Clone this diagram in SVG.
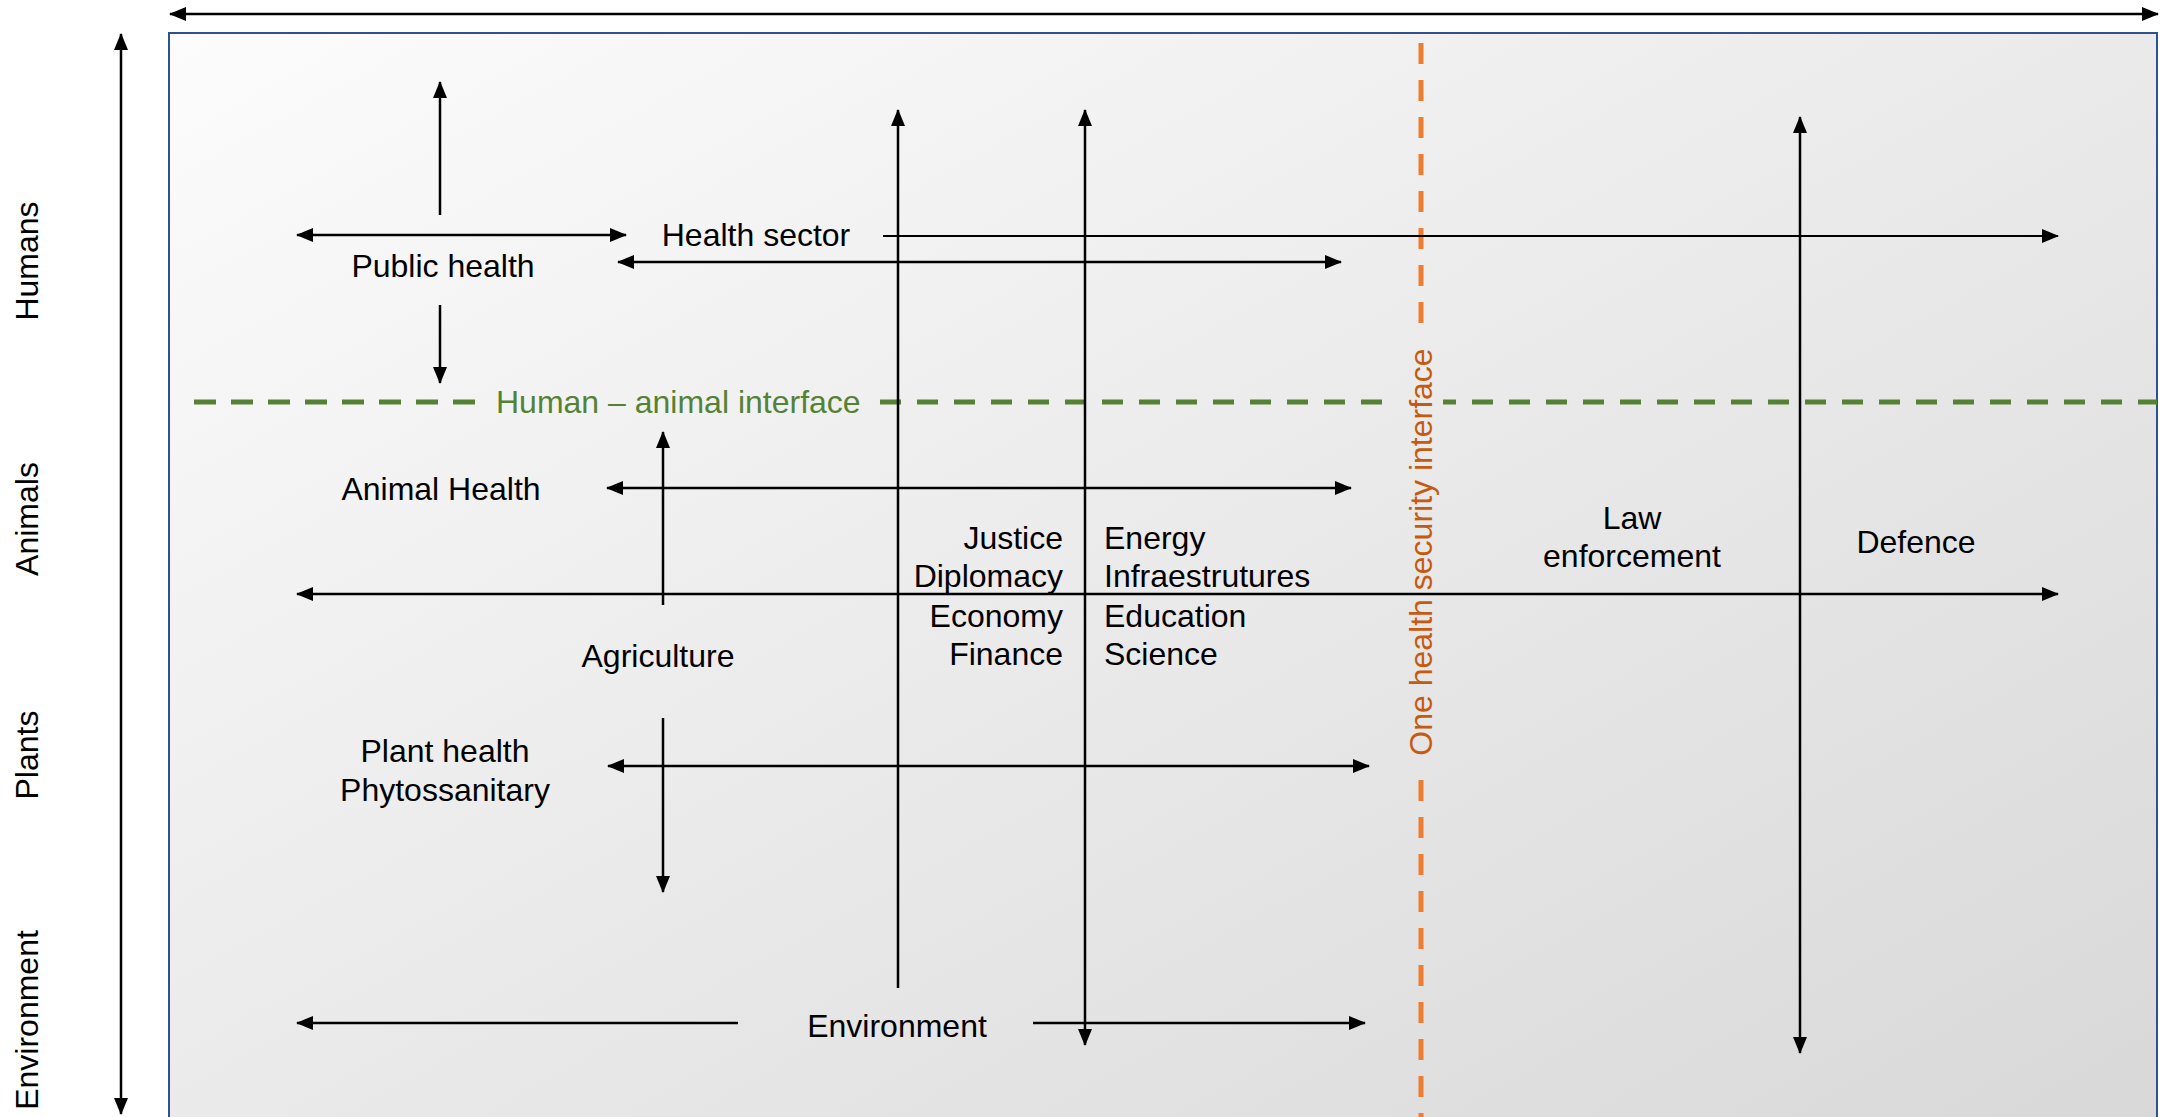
<svg xmlns="http://www.w3.org/2000/svg" width="2166" height="1117" viewBox="0 0 2166 1117">
<style>
text{font-family:"Liberation Sans",Arial,sans-serif;font-size:32px;fill:#000}
.c{text-anchor:middle}
.r{text-anchor:end}
.ln{stroke:#000;stroke-width:2.5;fill:none}
.g{fill:#548235}
.o{fill:#C55A11}
</style>
<defs>
<linearGradient id="bg" gradientUnits="userSpaceOnUse" x1="169" y1="33" x2="1101" y2="1717">
<stop offset="0" stop-color="#FCFCFC"/>
<stop offset="1" stop-color="#D8D8D8"/>
</linearGradient>
<marker id="ah" markerUnits="userSpaceOnUse" markerWidth="17" markerHeight="14" refX="16" refY="7" orient="auto-start-reverse" viewBox="0 0 17 14">
<path d="M0,0 L17,7 L0,14 z" fill="#000"/>
</marker>
</defs>
<rect x="0" y="0" width="2166" height="1117" fill="#fff"/>
<g id="frame">
<rect x="169" y="33" width="1988" height="1100" fill="url(#bg)" stroke="#2F528F" stroke-width="2"/>
</g>
<g id="interfaces">
<line x1="194" y1="402" x2="478" y2="402" stroke="#548235" stroke-width="5" stroke-dasharray="22 15"/>
<line x1="880" y1="402" x2="2157" y2="402" stroke="#548235" stroke-width="5" stroke-dasharray="21 16"/>
<line x1="1421" y1="43" x2="1421" y2="330" stroke="#ED7D31" stroke-width="5" stroke-dasharray="21 16"/>
<line x1="1421" y1="780" x2="1421" y2="1117" stroke="#ED7D31" stroke-width="5" stroke-dasharray="21 16"/>
<rect x="1387" y="330" width="56" height="445" fill="url(#bg)"/>
</g>
<g id="connectors" class="ln" marker-end="url(#ah)">
<line x1="170" y1="14" x2="2158" y2="14" marker-start="url(#ah)"/>
<line x1="121" y1="34" x2="121" y2="1114" marker-start="url(#ah)"/>
<line x1="440" y1="215" x2="440" y2="82"/>
<line x1="297" y1="235" x2="626" y2="235" marker-start="url(#ah)"/>
<line x1="440" y1="305" x2="440" y2="383"/>
<line x1="883" y1="236" x2="2058" y2="236" stroke-width="2"/>
<line x1="618" y1="262" x2="1341" y2="262" marker-start="url(#ah)"/>
<line x1="898" y1="988" x2="898" y2="110"/>
<line x1="1085" y1="110" x2="1085" y2="1045" marker-start="url(#ah)"/>
<line x1="1800" y1="117" x2="1800" y2="1053" marker-start="url(#ah)"/>
<line x1="663" y1="605" x2="663" y2="432"/>
<line x1="607" y1="488" x2="1351" y2="488" marker-start="url(#ah)"/>
<line x1="297" y1="594" x2="2058" y2="594" marker-start="url(#ah)"/>
<line x1="663" y1="718" x2="663" y2="892"/>
<line x1="608" y1="766" x2="1369" y2="766" marker-start="url(#ah)"/>
<line x1="738" y1="1023" x2="297" y2="1023"/>
<line x1="1033" y1="1023" x2="1365" y2="1023"/>
</g>
<g id="axis-humans"><text class="c" transform="translate(38,261) rotate(-90)">Humans</text></g>
<g id="axis-animals"><text class="c" transform="translate(38,519) rotate(-90)">Animals</text></g>
<g id="axis-plants"><text class="c" transform="translate(38,755) rotate(-90)">Plants</text></g>
<g id="axis-environment"><text class="c" transform="translate(38,1020) rotate(-90)">Environment</text></g>
<g id="human-animal-interface"><text class="g" x="496" y="413">Human – animal interface</text></g>
<g id="one-health-security-interface"><text class="c o" transform="translate(1432,552) rotate(-90)">One health security interface</text></g>
<g id="public-health"><text class="c" x="443" y="277">Public health</text></g>
<g id="health-sector"><text class="c" x="756" y="246">Health sector</text></g>
<g id="animal-health"><text class="c" x="441" y="500">Animal Health</text></g>
<g id="agriculture"><text class="c" x="658" y="667">Agriculture</text></g>
<g id="plant-health"><text class="c" x="445" y="762">Plant health</text><text class="c" x="445" y="801">Phytossanitary</text></g>
<g id="justice-group"><text class="r" x="1063" y="549">Justice</text><text class="r" x="1063" y="587">Diplomacy</text><text class="r" x="1063" y="627">Economy</text><text class="r" x="1063" y="665">Finance</text></g>
<g id="energy-group"><text x="1104" y="549">Energy</text><text x="1104" y="587">Infraestrutures</text><text x="1104" y="627">Education</text><text x="1104" y="665">Science</text></g>
<g id="law-enforcement"><text class="c" x="1632" y="529">Law</text><text class="c" x="1632" y="567">enforcement</text></g>
<g id="defence"><text class="c" x="1916" y="553">Defence</text></g>
<g id="environment"><text class="c" x="897" y="1037">Environment</text></g>
</svg>
